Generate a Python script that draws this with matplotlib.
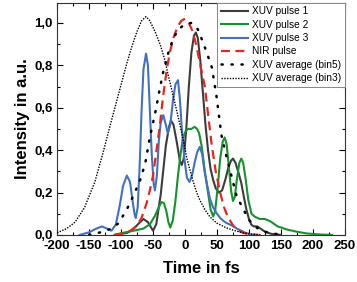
import matplotlib
matplotlib.use("Agg")
import matplotlib.pyplot as plt
from matplotlib.ticker import MultipleLocator, FuncFormatter

# ---------------------------------------------------------------------------
# Data
# ---------------------------------------------------------------------------

t_p1 = [-110, -90, -80, -72, -65, -58, -50, -45, -38, -30, -25, -22, -18, -13, -8, -5, -2,
        2, 6, 10, 14, 17, 20, 24, 28, 32, 36, 40, 44, 48, 53, 58, 63, 68, 72, 75, 79, 84,
        88, 92, 96, 100, 104, 108, 113, 118, 125, 135, 150]
y_p1 = [0.0, 0.01, 0.03, 0.055, 0.075, 0.06, 0.02, 0.05, 0.19, 0.42, 0.51, 0.54, 0.52, 0.44, 0.35,
        0.33, 0.36, 0.5, 0.7, 0.86, 0.94, 0.955, 0.93, 0.82, 0.67, 0.52, 0.4, 0.31, 0.26, 0.22,
        0.2, 0.21, 0.26, 0.32, 0.35, 0.36, 0.34, 0.29, 0.245, 0.18, 0.12, 0.075, 0.047, 0.04,
        0.04, 0.03, 0.015, 0.005, 0.0]

t_p2 = [-110, -100, -80, -65, -55, -47, -41, -37, -33, -29, -26, -23, -19, -15, -11, -7, -3,
        1, 5, 10, 15, 19, 22, 26, 31, 36, 40, 44, 47, 51, 55, 59, 62, 65, 68, 72, 75, 78,
        81, 85, 88, 91, 95, 99, 104, 109, 117, 125, 133, 145, 160, 175, 190, 210, 230]
y_p2 = [0.0, 0.008, 0.02, 0.03, 0.05, 0.09, 0.13, 0.155, 0.15, 0.11, 0.06, 0.035, 0.07, 0.16,
        0.28, 0.38, 0.46, 0.49, 0.5, 0.5, 0.51, 0.5, 0.48, 0.42, 0.3, 0.2, 0.12, 0.087, 0.11,
        0.22, 0.36, 0.44, 0.46, 0.43, 0.34, 0.21, 0.16, 0.18, 0.26, 0.34, 0.36, 0.34, 0.26,
        0.165, 0.1, 0.086, 0.075, 0.075, 0.065, 0.04, 0.025, 0.015, 0.007, 0.002, 0.0]

t_p3 = [-165, -150, -140, -130, -122, -115, -108, -102, -97, -91, -86, -82, -79, -77, -74,
        -71, -68, -65, -61, -58, -55, -52, -49, -47, -44, -41, -38, -34, -30, -27, -23, -19,
        -15, -11, -8, -5, -1, 3, 7, 11, 15, 19, 23, 27, 30, 34, 39, 44, 50, 55, 60, 65, 73,
        81, 88, 94, 105]
y_p3 = [0.0, 0.012, 0.028, 0.04, 0.03, 0.02, 0.05, 0.14, 0.23, 0.28, 0.25, 0.16, 0.1, 0.08,
        0.13, 0.32, 0.58, 0.78, 0.855, 0.8, 0.59, 0.38, 0.24, 0.21, 0.28, 0.44, 0.53, 0.565,
        0.52, 0.48, 0.52, 0.63, 0.71, 0.73, 0.64, 0.5, 0.36, 0.27, 0.25, 0.28, 0.34, 0.39,
        0.415, 0.38, 0.31, 0.245, 0.17, 0.13, 0.1, 0.08, 0.066, 0.056, 0.045, 0.03, 0.02,
        0.01, 0.0]

t_nir = [-110, -95, -85, -75, -68, -60, -55, -50, -45, -40, -34, -28, -23, -18, -12, -6, 0,
         6, 12, 18, 24, 31, 36, 42, 48, 55, 61, 67, 75, 82, 91, 100, 115]
y_nir = [0.0, 0.008, 0.02, 0.045, 0.08, 0.15, 0.21, 0.28, 0.39, 0.5, 0.66, 0.79, 0.87, 0.93,
         0.98, 1.01, 1.02, 1.0, 0.96, 0.89, 0.8, 0.7, 0.57, 0.42, 0.3, 0.2, 0.13, 0.085, 0.045,
         0.022, 0.01, 0.003, 0.0]

t_bin5 = [-150, -128, -115, -104, -91, -80, -70, -62, -55, -47, -40, -34, -26, -18, -10, 0,
          10, 20, 28, 34, 42, 49, 57, 64, 70, 80, 88, 100, 114, 125, 150]
y_bin5 = [0.0, 0.015, 0.03, 0.055, 0.12, 0.19, 0.26, 0.34, 0.46, 0.57, 0.68, 0.77, 0.86, 0.93,
          0.97, 0.995, 1.0, 0.97, 0.91, 0.86, 0.79, 0.66, 0.47, 0.38, 0.31, 0.19, 0.14, 0.07,
          0.03, 0.015, 0.0]

t_bin3 = [-200, -185, -172, -157, -141, -128, -115, -107, -99, -91, -83, -75, -68, -61, -55,
          -47, -39, -32, -26, -18, -11, -5, 3, 11, 17, 23, 31, 39, 50, 65, 78, 91, 105, 120]
y_bin3 = [0.01, 0.03, 0.06, 0.13, 0.25, 0.39, 0.54, 0.63, 0.72, 0.81, 0.89, 0.96, 1.01, 1.03,
          1.01, 0.96, 0.9, 0.83, 0.75, 0.65, 0.56, 0.48, 0.36, 0.27, 0.21, 0.165, 0.12, 0.085,
          0.055, 0.033, 0.02, 0.01, 0.004, 0.0]

x_ticks = [-200, -150, -100, -50, 0, 50, 100, 150, 200, 250]
y_ticks = [0.0, 0.2, 0.4, 0.6, 0.8, 1.0]

# ---------------------------------------------------------------------------
# Plot
# ---------------------------------------------------------------------------

plt.rcParams["font.family"] = ["Liberation Sans", "DejaVu Sans"]
plt.rcParams["axes.unicode_minus"] = False

fig = plt.figure(figsize=(3.57, 2.82), dpi=100)
ax = fig.add_axes([0.160, 0.167, 0.806, 0.823])

ax.plot(t_p1, y_p1, color="#3c3c3c", lw=1.5, label="XUV pulse 1", zorder=3)
ax.plot(t_p2, y_p2, color="#14932c", lw=1.5, label="XUV pulse 2", zorder=3)
ax.plot(t_p3, y_p3, color="#4271c4", lw=1.5, label="XUV pulse 3", zorder=3)
ax.plot(t_nir, y_nir, color="#e8261f", lw=1.6, ls=(0, (4, 2.5)), label="NIR pulse", zorder=4)
ax.plot(t_bin5, y_bin5, color="black", lw=1.8, ls=(0, (0.5, 3.5)),
        dash_capstyle="round", label="XUV average (bin5)", zorder=5)
ax.plot(t_bin3, y_bin3, color="black", lw=1.0, ls=(0, (1, 1)),
        label="XUV average (bin3)", zorder=5)

ax.set_xlim(-200, 250)
ax.set_ylim(0, 1.095)
ax.set_xticks(x_ticks)
ax.set_yticks(y_ticks)
ax.xaxis.set_minor_locator(MultipleLocator(25))
ax.yaxis.set_minor_locator(MultipleLocator(0.1))
ax.yaxis.set_major_formatter(FuncFormatter(lambda v, p: f"{v:.1f}".replace(".", ",")))
ax.tick_params(which="both", direction="in", top=True, right=True, width=0.8)
ax.tick_params(which="major", length=4, labelsize=9.5)
ax.tick_params(axis="x", which="major", pad=4)
ax.tick_params(axis="y", which="major", pad=3)
ax.tick_params(which="minor", length=2.5)
for lbl in ax.get_xticklabels() + ax.get_yticklabels():
    lbl.set_fontweight("bold")
for sp in ax.spines.values():
    sp.set_linewidth(0.8)
    sp.set_color("#333333")

ax.set_xlabel("Time in fs", fontsize=12, fontweight="bold", labelpad=6)
ax.set_ylabel("Intensity in a.u.", fontsize=12, fontweight="bold", labelpad=3)

leg = ax.legend(loc="upper right", fontsize=7.3, frameon=True, fancybox=False,
                borderaxespad=0, handlelength=2.7, handletextpad=0.4,
                labelspacing=0.33, borderpad=0.35)
leg.get_frame().set_edgecolor("#888888")
leg.get_frame().set_linewidth(0.7)
leg.get_frame().set_alpha(1.0)

fig.savefig("out.png", dpi=100)
